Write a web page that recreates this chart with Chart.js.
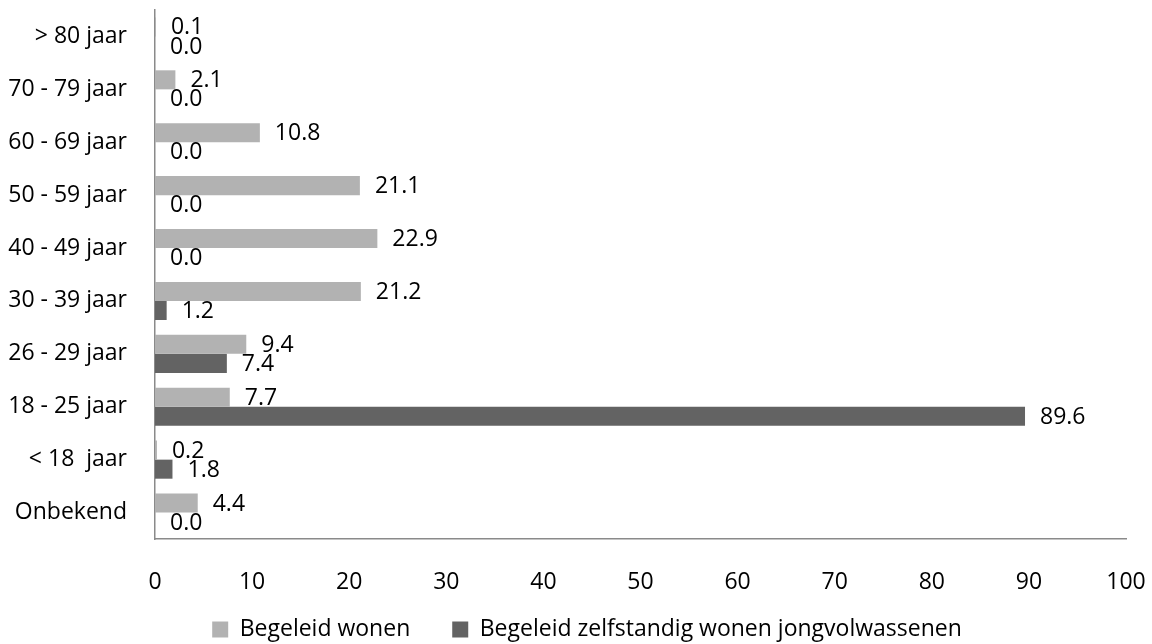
<!DOCTYPE html>
<html>
<head>
<meta charset="utf-8">
<script src="https://cdn.jsdelivr.net/npm/chart.js@4/dist/chart.umd.min.js"></script>
<style>
  html, body { margin: 0; padding: 0; background: #fff; }
  #wrap { width: 1152px; height: 644px; }
</style>
</head>
<body>
<div id="wrap"><canvas id="chartLeeftijd"></canvas></div>
<script>
const leeftijden = ['> 80 jaar', '70 - 79 jaar', '60 - 69 jaar', '50 - 59 jaar', '40 - 49 jaar',
  '30 - 39 jaar', '26 - 29 jaar', '18 - 25 jaar', '< 18  jaar', 'Onbekend'];
const begeleidWonen = [0.1, 2.1, 10.8, 21.1, 22.9, 21.2, 9.4, 7.7, 0.2, 4.4];
const zelfstandigJong = [0.0, 0.0, 0.0, 0.0, 0.0, 1.2, 7.4, 89.6, 1.8, 0.0];
const xMin = 0, xMax = 100, xStap = 10;

const FONT = '"Open Sans", "Noto Sans", sans-serif';
const FS = 23;
Chart.defaults.font.family = FONT;
Chart.defaults.font.size = FS;
Chart.defaults.color = '#000';

// value labels right of each bar
const waardeLabels = {
  id: 'waardeLabels',
  afterDatasetsDraw(chart) {
    const ctx = chart.ctx;
    ctx.save();
    ctx.font = FS + 'px ' + FONT;
    ctx.fillStyle = '#000';
    ctx.textAlign = 'left';
    ctx.textBaseline = 'middle';
    chart.data.datasets.forEach((ds, i) => {
      chart.getDatasetMeta(i).data.forEach((bar, j) => {
        ctx.fillText(ds.data[j].toFixed(1), bar.x + 15, bar.y + 1);
      });
    });
    ctx.restore();
  }
};

// legend: wide gaps between items but placed close under the axis labels
const legendPlek = {
  id: 'legendPlek',
  beforeLayout(chart) {
    const lg = chart.legend;
    if (lg && !lg._vast) {
      const fit = lg.fit;
      lg.fit = function () { fit.call(this); this.height = 45; };
      lg._vast = true;
    }
  },
  afterLayout(chart) {
    const lg = chart.legend;
    lg.top = 576; lg.bottom = 644;
    lg.left += 24; lg.right += 24;
  }
};

const chart = new Chart(document.getElementById('chartLeeftijd'), {
  type: 'bar',
  data: {
    labels: leeftijden,
    datasets: [
      { label: 'Begeleid wonen', data: begeleidWonen, backgroundColor: '#b2b2b2', borderWidth: 0 },
      { label: 'Begeleid zelfstandig wonen jongvolwassenen', data: zelfstandigJong, backgroundColor: '#636363', borderWidth: 0 }
    ]
  },
  options: {
    indexAxis: 'y',
    responsive: true,
    maintainAspectRatio: false,
    animation: false,
    categoryPercentage: 0.72,
    barPercentage: 1,
    layout: { padding: { top: 10, right: 26, left: 0, bottom: 0 } },
    scales: {
      x: {
        min: xMin, max: xMax,
        grid: { display: false },
        border: { display: true, color: '#8a8a8a', width: 1.5 },
        ticks: { stepSize: xStap, padding: 22, maxRotation: 0 },
        afterFit: s => { s.height = 60; s.paddingLeft = 0; s.paddingRight = 0; }
      },
      y: {
        grid: { display: false },
        border: { display: true, color: '#8a8a8a', width: 1.5 },
        ticks: { padding: 20 },
        afterFit: s => { s.width = 155; s.paddingTop = 0; s.paddingBottom = 0; }
      }
    },
    plugins: {
      legend: {
        position: 'bottom',
        labels: { boxWidth: 16, boxHeight: 16, padding: 42 }
      },
      tooltip: { enabled: false }
    }
  },
  plugins: [waardeLabels, legendPlek]
});

document.fonts.load(FS + 'px "Open Sans"').then(() => chart.update());
</script>
</body>
</html>
